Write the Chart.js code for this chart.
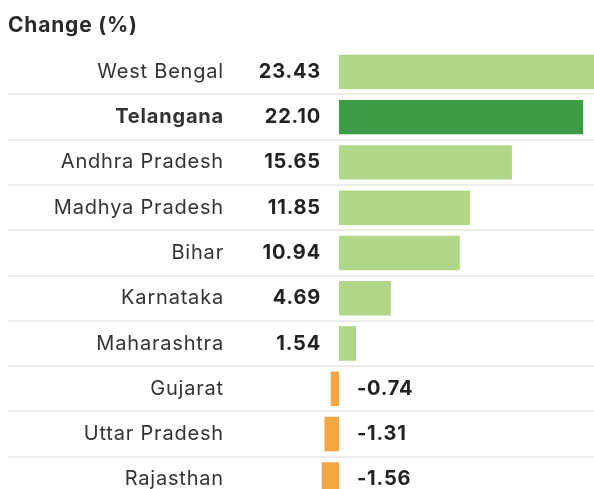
<!DOCTYPE html>
<html>
<head>
<meta charset="utf-8">
<script src="https://cdn.jsdelivr.net/npm/chart.js@4.4.1/dist/chart.umd.min.js"></script>
<style>
  html, body { margin: 0; padding: 0; background: #fff; overflow: hidden; }
  #wrap { position: relative; width: 594px; height: 502px; }
</style>
</head>
<body>
<div id="wrap"><canvas id="myChart"></canvas></div>
<script>
var states = ["West Bengal", "Telangana", "Andhra Pradesh", "Madhya Pradesh", "Bihar",
  "Karnataka", "Maharashtra", "Gujarat", "Uttar Pradesh", "Rajasthan"];
var change = [23.43, 22.10, 15.65, 11.85, 10.94, 4.69, 1.54, -0.74, -1.31, -1.56];
var highlight = "Telangana";

var barColors = states.map(function (s, i) {
  if (s === highlight) return '#3d9b47';
  return change[i] < 0 ? '#f6a640' : '#b0d687';
});

var FONT = 'Inter';

// state names and values sit beside the bars, placed from the scales
var rowLabels = {
  id: 'rowLabels',
  beforeDraw: function (chart) { chart.ctx.letterSpacing = '0.8px'; },
  afterDatasetsDraw: function (chart) {
    var ctx = chart.ctx;
    var x = chart.scales.x, y = chart.scales.y;
    var zero = x.getPixelForValue(0);
    ctx.save();
    ctx.textBaseline = 'middle';
    states.forEach(function (s, i) {
      var py = y.getPixelForValue(i);
      ctx.fillStyle = '#333';
      ctx.textAlign = 'right';
      ctx.letterSpacing = '0.8px';
      ctx.font = (s === highlight ? '700 ' : '400 ') + '20px ' + FONT;
      ctx.fillText(s, zero - 115, py);
      ctx.fillStyle = '#222';
      ctx.letterSpacing = '0.8px';
      ctx.font = '700 20px ' + FONT;
      if (change[i] >= 0) {
        ctx.textAlign = 'right';
        ctx.fillText(change[i].toFixed(2), zero - 18, py);
      } else {
        ctx.textAlign = 'left';
        ctx.fillText(change[i].toFixed(2), zero + 18, py);
      }
    });
    ctx.restore();
  },
  afterDraw: function (chart) { chart.ctx.letterSpacing = '0px'; }
};

var ctx = document.getElementById('myChart');
var myChart = new Chart(ctx, {
  type: 'bar',
  data: {
    labels: states,
    datasets: [{
      data: change,
      backgroundColor: barColors,
      borderWidth: 0,
      barPercentage: 0.76,
      categoryPercentage: 1
    }]
  },
  options: {
    indexAxis: 'y',
    responsive: true,
    maintainAspectRatio: false,
    animation: false,
    layout: { padding: { left: 8, right: 0, top: 0, bottom: 0 } },
    plugins: {
      legend: { display: false },
      tooltip: { enabled: false },
      title: {
        display: true,
        text: 'Change (%)',
        align: 'start',
        color: '#2b2b2b',
        font: { family: FONT, size: 21, weight: '700' },
        padding: { top: 13, bottom: 11 }
      }
    },
    scales: {
      x: {
        display: false,
        min: -29.95,
        max: 23.08
      },
      y: {
        offset: true,
        ticks: { display: false },
        border: { display: false },
        grid: {
          offset: true,
          drawTicks: false,
          lineWidth: 2,
          color: function (c) { return c.index === 0 ? 'rgba(0,0,0,0)' : '#ececec'; }
        },
        afterFit: function (s) { s.width = 0; }
      }
    }
  },
  plugins: [rowLabels]
});
</script>
</body>
</html>
